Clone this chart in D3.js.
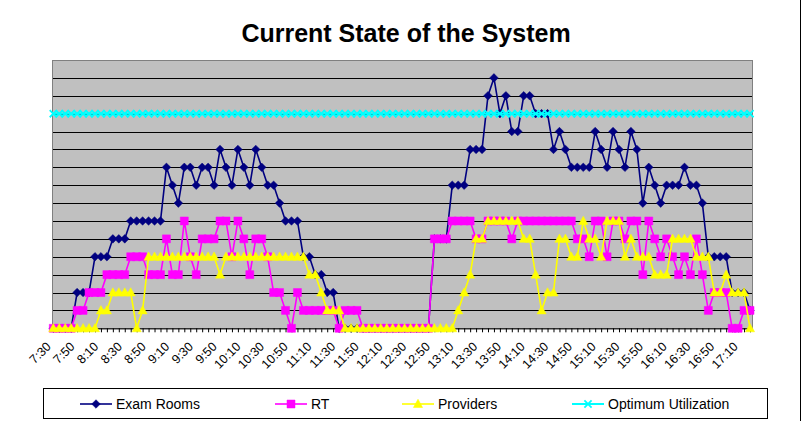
<!DOCTYPE html>
<html><head><meta charset="utf-8">
<script src="https://cdn.jsdelivr.net/npm/d3@7"></script>
<style>
body{margin:0;background:#fff;}
svg{display:block;font-family:Arial,"Liberation Sans",sans-serif;}
</style>
</head><body>
<svg id="chart" width="807" height="421"></svg>
<script>
const times = ["7:30","7:35","7:40","7:45","7:50","7:55",
"8:00","8:05","8:10","8:15","8:20","8:25","8:30","8:35","8:40","8:45","8:50","8:55",
"9:00","9:05","9:10","9:15","9:20","9:25","9:30","9:35","9:40","9:45","9:50","9:55",
"10:00","10:05","10:10","10:15","10:20","10:25","10:30","10:35","10:40","10:45","10:50","10:55",
"11:00","11:05","11:10","11:15","11:20","11:25","11:30","11:35","11:40","11:45","11:50","11:55",
"12:00","12:05","12:10","12:15","12:20","12:25","12:30","12:35","12:40","12:45","12:50","12:55",
"13:00","13:05","13:10","13:15","13:20","13:25","13:30","13:35","13:40","13:45","13:50","13:55",
"14:00","14:05","14:10","14:15","14:20","14:25","14:30","14:35","14:40","14:45","14:50","14:55",
"15:00","15:05","15:10","15:15","15:20","15:25","15:30","15:35","15:40","15:45","15:50","15:55",
"16:00","16:05","16:10","16:15","16:20","16:25","16:30","16:35","16:40","16:45","16:50","16:55",
"17:00","17:05","17:10","17:15"];

const tickLabels = ["7:30","7:50","8:10","8:30","8:50","9:10","9:30","9:50","10:10","10:30",
"10:50","11:10","11:30","11:50","12:10","12:30","12:50","13:10","13:30","13:50",
"14:10","14:30","14:50","15:10","15:30","15:50","16:10","16:30","16:50","17:10"];

const examRooms = [0,0,0,0,2,2,2,4,4,4,5,5,5,6,6,6,6,6,6,
9,8,7,9,9,8,9,9,8,10,9,8,10,9,8,10,9,8,8,7,
6,6,6,4,4,3,3,2,2,
0,0,0,0,0,0,0,0,0,0,0,0,0,0,0,0,
5,5,5,8,8,8,10,10,10,
13,14,12,13,11,11,13,13,12,12,12,10,11,10,9,9,9,9,11,10,9,11,10,9,11,10,
7,9,8,7,8,8,8,9,8,8,7,4,4,4,4,2,2,2,1];

const rt = [0,0,0,0,1,1,2,2,2,3,3,3,3,4,4,4,3,3,3,
5,3,3,6,4,3,5,5,5,6,6,4,6,5,3,5,5,4,2,2,1,0,2,
1,1,1,1,1,1,0,1,1,1,
0,0,0,0,0,0,0,0,0,0,0,0,
5,5,5,6,6,6,6,5,5,6,6,6,6,5,6,6,6,6,6,6,6,6,6,6,5,5,4,6,6,4,6,6,5,6,6,
3,6,5,4,5,4,3,4,3,5,3,1,2,2,2,0,0,1,1];

const providers = [0,0,0,0,0,0,0,0,1,1,2,2,2,2,0,1,
4,4,4,4,4,4,4,4,4,4,4,4,3,4,4,4,4,4,4,4,4,4,4,4,4,4,4,
3,3,2,1,1,1,
0,0,0,0,0,0,0,0,0,0,0,0,0,0,0,0,0,0,0,
1,2,3,5,5,6,6,6,6,6,6,5,5,3,1,2,2,5,5,4,4,6,5,5,4,6,6,6,4,5,
4,4,4,3,3,3,5,5,5,5,4,4,4,2,2,3,2,2,2,0];

const optimum = [12,12,12,12,12,12,12,12,12,12,12,12,12,12,12,12,12,12,12,12,
12,12,12,12,12,12,12,12,12,12,12,12,12,12,12,12,12,12,12,12,
12,12,12,12,12,12,12,12,12,12,12,12,12,12,12,12,12,12,12,12,
12,12,12,12,12,12,12,12,12,12,12,12,12,12,12,12,12,12,12,12,
12,12,12,12,12,12,12,12,12,12,12,12,12,12,12,12,12,12,12,12,
12,12,12,12,12,12,12,12,12,12,12,12,12,12,12,12,12,12];

const seriesNames = ["Exam Rooms","RT","Providers","Optimum Utilization"];
const seriesColors = ["#000080","#FF00FF","#FFFF00","#00FFFF"];
const seriesValues = [examRooms, rt, providers, optimum];
const markerKinds = ["diamond","square","triangle","x"];

const svg = d3.select("#chart");
const P = {l:52, r:753, t:60, b:328.3};

const x = d3.scalePoint().domain(times).range([53.3, 750]);
const y = d3.scaleLinear().domain([0,15]).range([P.b, P.t]);

// outer chart frame (right edge visible in the reference)
svg.append("line").attr("x1",800.5).attr("x2",800.5).attr("y1",0).attr("y2",421)
  .attr("stroke","#000").attr("stroke-width",1);

// title
svg.append("text").attr("x", 406).attr("y", 42).attr("text-anchor","middle")
  .attr("font-size", 25).attr("font-weight","bold").attr("fill","#000")
  .text("Current State of the System");

// plot background
svg.append("rect").attr("x",P.l).attr("y",P.t).attr("width",P.r-P.l).attr("height",P.b-P.t)
  .attr("fill","#C0C0C0");

// gridlines
svg.append("g").selectAll("line").data(d3.range(1,15)).join("line")
  .attr("x1",P.l).attr("x2",P.r).attr("y1",d=>Math.round(y(d))+0.5).attr("y2",d=>Math.round(y(d))+0.5)
  .attr("stroke","#000").attr("stroke-width",1);

// plot border
svg.append("rect").attr("x",P.l+0.5).attr("y",P.t+0.5).attr("width",P.r-P.l-1).attr("height",P.b-P.t)
  .attr("fill","none").attr("stroke","#808080").attr("stroke-width",1);

// x axis ticks
const axisG = svg.append("g").attr("transform",`translate(0,${P.b})`)
  .call(d3.axisBottom(x).tickValues(times).tickSize(4).tickSizeOuter(0).tickFormat(""));
axisG.select(".domain").attr("stroke","#000");
axisG.selectAll(".tick line").attr("stroke","#000");

// x axis labels
const labG = svg.append("g").attr("transform",`translate(0,${P.b})`)
  .call(d3.axisBottom(x).tickValues(tickLabels).tickSize(0).tickSizeOuter(0));
labG.select(".domain").remove();
labG.selectAll(".tick text")
  .attr("font-size",12.5).attr("font-family","Arial, 'Liberation Sans', sans-serif").attr("fill","#000")
  .attr("text-anchor","end").attr("y",0).attr("dy",0)
  .attr("transform",(d,i)=>`translate(${-2 - i*0.13},19) rotate(-45)`);

// markers
function markerPath(kind){
  if(kind==="diamond") return "M0,-4.3L4.3,0L0,4.3L-4.3,0Z";
  if(kind==="square") return "M-4,-4H4V4H-4Z";
  if(kind==="triangle") return "M0,-4.8L4.6,3.5H-4.6Z";
  return "M-3.6,-3.6L3.6,3.6M3.6,-3.6L-3.6,3.6";
}

const line = d3.line().x((d,i)=>x(times[i])).y(d=>y(d));

seriesValues.forEach((vals,k)=>{
  const g = svg.append("g");
  g.append("path").datum(vals).attr("d",line).attr("fill","none")
    .attr("stroke",seriesColors[k]).attr("stroke-width",k===3?2:1.6);
  const m = g.selectAll("path.m").data(vals).join("path").attr("class","m")
    .attr("transform",(d,i)=>`translate(${x(times[i])},${y(d)})`)
    .attr("d",markerPath(markerKinds[k]));
  if(markerKinds[k]==="x") m.attr("fill","none").attr("stroke",seriesColors[k]).attr("stroke-width",1.8);
  else m.attr("fill",seriesColors[k]).attr("stroke",seriesColors[k]).attr("stroke-width",0.5);
});

// legend
const L = svg.append("g");
L.append("rect").attr("x",43.5).attr("y",388.5).attr("width",724).attr("height",30)
  .attr("fill","#fff").attr("stroke","#000").attr("stroke-width",1);
const legX = [80, 275, 402, 572];
seriesNames.forEach((name,k)=>{
  const gx = legX[k], gy = 404;
  L.append("line").attr("x1",gx).attr("x2",gx+32).attr("y1",gy).attr("y2",gy)
    .attr("stroke",seriesColors[k]).attr("stroke-width",k===3?2:1.6);
  const mk = L.append("path").attr("transform",`translate(${gx+16},${gy})`).attr("d",markerPath(markerKinds[k]));
  if(markerKinds[k]==="x") mk.attr("fill","none").attr("stroke",seriesColors[k]).attr("stroke-width",1.8);
  else mk.attr("fill",seriesColors[k]).attr("stroke",seriesColors[k]).attr("stroke-width",0.5);
  L.append("text").attr("x",gx+36).attr("y",gy+5).attr("font-size",14).attr("fill","#000").text(name);
});
</script>
</body></html>
